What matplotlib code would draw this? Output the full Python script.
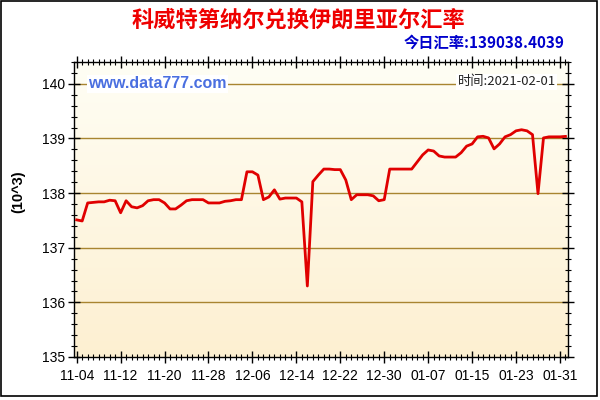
import numpy as np
import matplotlib
matplotlib.use("Agg")
import matplotlib.pyplot as plt
import matplotlib.dates as mdates
from matplotlib.patches import Rectangle
import datetime as dt

plt.rcParams['font.family'] = ['Liberation Sans', 'Noto Sans CJK SC', 'DejaVu Sans']

start_date = dt.date(2020, 11, 4)
values = [137.51, 137.49, 137.82, 137.83, 137.84, 137.84, 137.87, 137.86, 137.64, 137.86,
          137.75, 137.73, 137.77, 137.86, 137.88, 137.88, 137.82, 137.71, 137.71, 137.78,
          137.86, 137.88, 137.88, 137.88, 137.82, 137.82, 137.82, 137.85, 137.86, 137.88,
          137.88, 138.39, 138.39, 138.33, 137.88, 137.93, 138.06, 137.89, 137.91, 137.91,
          137.91, 137.84, 136.30, 138.21, 138.33, 138.44, 138.44, 138.43, 138.43, 138.24,
          137.88, 137.97, 137.97, 137.97, 137.95, 137.86, 137.88, 138.44, 138.44, 138.44,
          138.44, 138.44, 138.57, 138.70, 138.79, 138.77, 138.68, 138.66, 138.66, 138.66,
          138.74, 138.86, 138.90, 139.03, 139.04, 139.01, 138.81, 138.90, 139.03, 139.07,
          139.14, 139.16, 139.14, 139.07, 137.99, 139.01, 139.03, 139.03, 139.03, 139.038]
dates = [start_date + dt.timedelta(days=i) for i in range(len(values))]

title = "科威特第纳尔兑换伊朗里亚尔汇率"
subtitle = "今日汇率:139038.4039"
watermark = "www.data777.com"
time_label = "时间:2021-02-01"
ylabel = "(10^3)"
yticks = [135, 136, 137, 138, 139, 140]

fig = plt.figure(figsize=(6, 4), dpi=100)
fig.patch.set_facecolor('white')
ax = fig.add_axes([0.124, 0.1075, 0.823, 0.7375])

x0 = mdates.date2num(dt.datetime(2020, 11, 3, 14))
x1 = mdates.date2num(dt.datetime(2021, 2, 1, 12))
ax.set_xlim(x0, x1)
ax.set_ylim(135, 140.4)

# gradient background
grad = np.linspace(0, 1, 256).reshape(256, 1, 1)
top = np.array([1.0, 0.996, 0.960])
bot = np.array([0.992, 0.940, 0.820])
img = top + (bot - top) * grad * np.ones((1, 2, 3))
ax.imshow(img, extent=[x0, x1, 135, 140.4], aspect='auto', origin='upper', zorder=0)

for y in yticks[1:]:
    ax.axhline(y, color='#a88530', lw=1.0, zorder=1)

ax.plot(mdates.date2num(dates), values, color='#e00000', lw=2.0, zorder=3)

ax.set_yticks(yticks)
ax.yaxis.set_minor_locator(matplotlib.ticker.MultipleLocator(0.2))
major_dates = [dt.date(2020, 11, 4) + dt.timedelta(days=8 * i) for i in range(12)]
ax.set_xticks(mdates.date2num(major_dates))
ax.set_xticklabels([d.strftime('%m-%d') for d in major_dates])
ax.xaxis.set_minor_locator(mdates.DayLocator())
ax.tick_params(axis='both', which='major', direction='inout', length=8, width=1,
               labelsize=10, colors='black', top=True, right=True)
ax.tick_params(axis='both', which='minor', direction='inout', length=5, width=0.8,
               top=True, right=True)
ax.tick_params(axis='x', pad=5)
ax.tick_params(axis='y', pad=3)
for s in ax.spines.values():
    s.set_color('black')
    s.set_linewidth(1)

fig.text(18 / 600, 1 - 192 / 400, ylabel, rotation=90, ha='center', va='center',
         fontsize=10.5, fontweight='bold')
fig.text(298 / 600, 1 - 20 / 400, title, ha='center', va='center', fontsize=16,
         fontweight='bold', color='#ee0000', family=['Noto Sans CJK SC', 'DejaVu Sans'])
fig.text(564 / 600, 1 - 43 / 400, subtitle, ha='right', va='center', fontsize=11,
         fontweight='bold', color='#0000cc', family=['Noto Sans CJK SC', 'DejaVu Sans'])
ax.text(88 / 600, 1 - 84 / 400, watermark, transform=fig.transFigure, ha='left', va='center',
        fontsize=11.5, fontweight='bold', color='#4a6fe0', zorder=4,
        bbox=dict(facecolor='white', edgecolor='none', pad=1))
ax.text(556 / 600, 1 - 82 / 400, time_label, transform=fig.transFigure, ha='right', va='center',
        fontsize=9.5, color='#222222', zorder=4, family=['Noto Sans CJK SC', 'DejaVu Sans'],
        bbox=dict(facecolor='white', edgecolor='none', pad=1))

fig.patches.append(Rectangle((1 / 600, 4 / 400), 596 / 600, 395 / 400, transform=fig.transFigure,
                             fill=False, edgecolor='black', lw=1.2))

fig.savefig('out.png', dpi=100)
